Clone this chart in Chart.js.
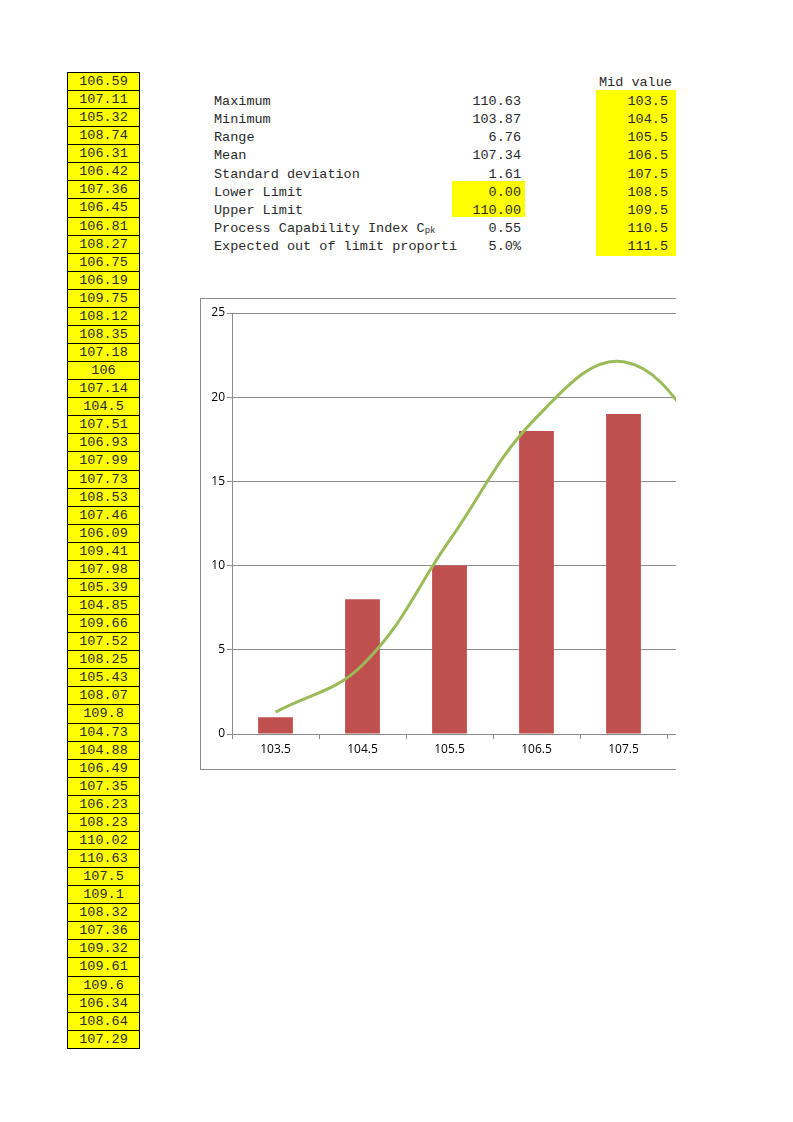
<!DOCTYPE html>
<html>
<head>
<meta charset="utf-8">
<script src="https://cdn.jsdelivr.net/npm/chart.js@4/dist/chart.umd.min.js"></script>
<style>
  body { margin: 0; background: #fff; }
  #page { position: absolute; left: 0; top: 0; width: 676px; height: 1122px; overflow: hidden; }
  .mono { font-family: "Liberation Mono", "DejaVu Sans Mono", monospace; font-size: 13.5px; color: #2a2a2a; }
  .cell { position: absolute; left: 67px; width: 73px; box-sizing: border-box; border: 1px solid #000; background: #ffff00;
          text-align: center; line-height: 17px; }
  .row { position: absolute; height: 18px; line-height: 18px; white-space: nowrap; }
  .yel { position: absolute; background: #ffff00; }
  #chartBox { position: absolute; left: 200px; top: 298px; width: 840px; height: 470px; border: 1px solid #8c8c8c; background: #fff; }
  #chartBox canvas { position: absolute; left: 0; top: 0; }
</style>
</head>
<body>
<div id="page">
  <div id="col"></div>
  <div id="stats"></div>
  <div id="chartBox"><canvas id="c" width="834" height="470"></canvas></div>
</div>
<script>
// raw measurements in the left column
var samples = [106.59, 107.11, 105.32, 108.74, 106.31, 106.42, 107.36, 106.45, 106.81, 108.27,
  106.75, 106.19, 109.75, 108.12, 108.35, 107.18, 106, 107.14, 104.5, 107.51, 106.93, 107.99,
  107.73, 108.53, 107.46, 106.09, 109.41, 107.98, 105.39, 104.85, 109.66, 107.52, 108.25, 105.43,
  108.07, 109.8, 104.73, 104.88, 106.49, 107.35, 106.23, 108.23, 110.02, 110.63, 107.5, 109.1,
  108.32, 107.36, 109.32, 109.61, 109.6, 106.34, 108.64, 107.29];

var statLabels = ['Maximum', 'Minimum', 'Range', 'Mean', 'Standard deviation', 'Lower Limit',
  'Upper Limit', 'Process Capability Index C<sub style="font-size:9px;vertical-align:-1px">pk</sub>',
  'Expected out of limit proporti'];
var statValues = ['110.63', '103.87', '6.76', '107.34', '1.61', '0.00', '110.00', '0.55', '5.0%'];

// histogram: bin mid values, counts, fitted curve
var midValues = ['103.5', '104.5', '105.5', '106.5', '107.5', '108.5', '109.5', '110.5', '111.5'];
var counts = [1, 8, 10, 18, 19, 16, 10, 4, 1];
var curve = [1.3, 4.1, 11.5, 18.8, 22.1, 17.1, 9.0, 3.2, 0.8];

// left column, borders of neighbouring cells overlap
var col = document.getElementById('col'), html = '';
samples.forEach(function(v, i) {
  var top = Math.round(72 + i * 18.07), next = Math.round(72 + (i + 1) * 18.07);
  html += '<div class="cell mono" style="top:' + top + 'px;height:' + (next - top + 1) + 'px">' + v + '</div>';
});
col.innerHTML = html;

// statistics block
var st = document.getElementById('stats'), s = '';
s += '<div class="yel" style="left:452px;top:181px;width:73px;height:36px"></div>';
s += '<div class="yel" style="left:596px;top:90px;width:80px;height:166px"></div>';
s += '<div class="row mono" style="left:599px;top:74px">Mid value</div>';
statLabels.forEach(function(l, i) {
  var top = 93 + i * 18.15;
  s += '<div class="row mono" style="left:214px;top:' + top + 'px">' + l + '</div>';
  s += '<div class="row mono" style="left:400px;width:121px;text-align:right;top:' + top + 'px">' + statValues[i] + '</div>';
  s += '<div class="row mono" style="left:596px;width:72px;text-align:right;top:' + top + 'px">' + midValues[i] + '</div>';
});
st.innerHTML = s;

var tickFont = { family: '"Open Sans", "DejaVu Sans", sans-serif', size: 12 };

new Chart(document.getElementById('c'), {
  type: 'bar',
  data: {
    labels: midValues,
    datasets: [
      { type: 'line', data: curve, borderColor: '#9bbb59', borderWidth: 3, pointRadius: 0,
        tension: 0.4, fill: false, order: 0 },
      { type: 'bar', data: counts, backgroundColor: '#c0504d', barPercentage: 0.4,
        categoryPercentage: 1, order: 1 }
    ]
  },
  options: {
    responsive: false,
    animation: false,
    layout: { padding: { left: 0, top: 14, right: 20, bottom: 0 } },
    plugins: { legend: { display: false }, tooltip: { enabled: false } },
    scales: {
      x: {
        offset: true,
        grid: { offset: true, drawOnChartArea: false, drawTicks: true, tickLength: 5, color: '#8c8c8c' },
        border: { color: '#8c8c8c' },
        ticks: { font: tickFont, color: '#000', padding: 3, maxRotation: 0 },
        afterFit: function(sc) { sc.height = 35; }
      },
      y: {
        min: 0, max: 25,
        ticks: { stepSize: 5, font: tickFont, color: '#000', padding: 2 },
        grid: { color: '#8c8c8c', tickLength: 5 },
        border: { color: '#8c8c8c' },
        afterFit: function(sc) { sc.width = 31; }
      }
    }
  }
});
</script>
</body>
</html>
